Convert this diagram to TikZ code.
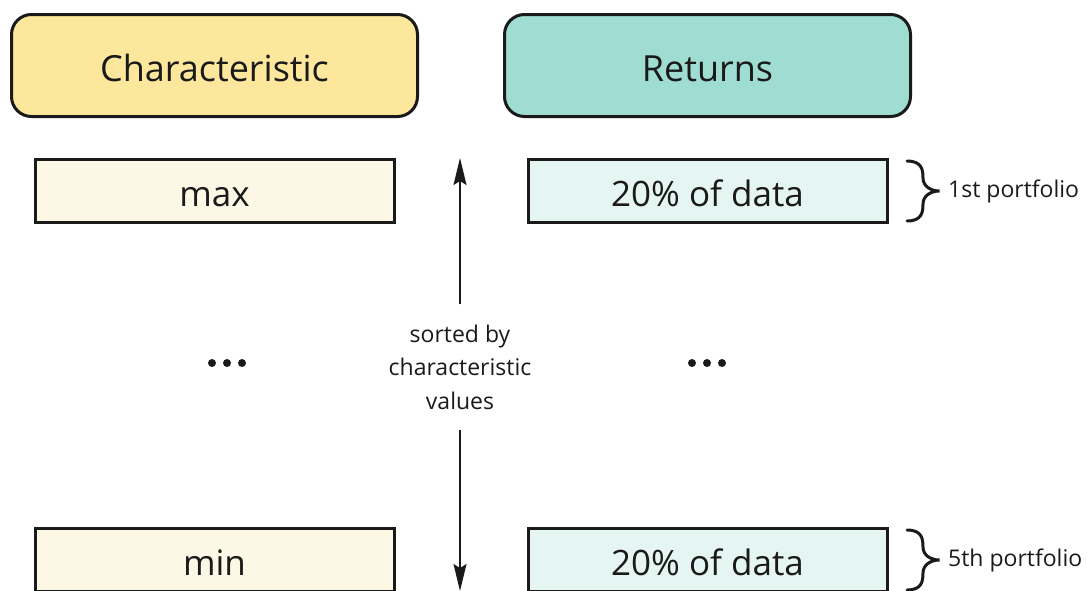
\documentclass[tikz,border=0pt]{standalone}
\usepackage{
	fontspec,			% Fonts
	xcolor				% Colours
}
\setmainfont{Open Sans}
\usetikzlibrary{arrows.meta}
\definecolor{headyellow}{RGB}{252,231,157}
\definecolor{headteal}{RGB}{159,221,210}
\definecolor{cellyellow}{RGB}{253,247,230}
\definecolor{cellteal}{RGB}{229,245,241}
\definecolor{edge}{RGB}{26,26,26}

\begin{document}
\begin{tikzpicture}[x=1pt,y=-1pt,
		head/.style={draw=edge,line width=3pt,rounded corners=20pt,minimum width=406pt,minimum height=102pt,
			text height=31pt,text depth=0pt,font=\fontsize{36}{40}\selectfont},
		cell/.style={draw=edge,line width=3pt,minimum width=359pt,minimum height=63pt,
			text height=31pt,text depth=0pt,font=\fontsize{35}{40}\selectfont},
		small/.style={font=\fontsize{23}{33.5}\selectfont,text=edge},
		arr/.style={line width=1.5pt,-{Stealth[length=27pt,width=13pt,inset=4pt]}},
		bracepath/.style={line width=3pt,line cap=round}]
		\useasboundingbox (0,0) rectangle (1087,590);
		\clip (0,0) rectangle (1087,590);
		\node[head,fill=headyellow,text=edge] (char) at (214.5,65.5) {Characteristic};
		\node[head,fill=headteal,text=edge] (ret) at (707.5,65.5) {Returns};
		\node[cell,fill=cellyellow,text=edge] (cmax) at (214.5,191) {max};
		\node[cell,fill=cellyellow,text=edge] (cmin) at (214.5,560) {min};
		\node[cell,fill=cellteal,text=edge] (rtop) at (707.5,191) {20\% of data};
		\node[cell,fill=cellteal,text=edge] (rbot) at (707.5,560) {20\% of data};
		\node[small,align=center,inner ysep=20pt] (sort) at (460,367) {sorted by\\characteristic\\values};
		\coordinate (low) at (460,591);
		\draw[arr,edge] (sort.north) -- (sort.north |- rtop.north);
		\draw[arr,edge] (sort.south) -- (low);
		\foreach \dx in {-15,0,15} {
			\fill[edge] (227+\dx,363) circle (4pt);
			\fill[edge] (707+\dx,363) circle (4pt);
		}
		\foreach \r in {rtop,rbot}
			\draw[bracepath,edge] ([shift={(18.5,-30)}]\r.east)
				.. controls +(15,0) and +(0,-8) .. ([shift={(34.5,-13)}]\r.east)
				.. controls +(0,8) and +(-9,0) .. ([shift={(51,0)}]\r.east)
				.. controls +(-9,0) and +(0,-8) .. ([shift={(34.5,13)}]\r.east)
				.. controls +(0,8) and +(15,0) .. ([shift={(18.5,30)}]\r.east);
		\node[small,anchor=west,inner sep=0pt] (first) at (948,191) {1st portfolio};
		\node[small,anchor=west,inner sep=0pt] (fifth) at (948,560) {5th portfolio};
\end{tikzpicture}
\end{document}
